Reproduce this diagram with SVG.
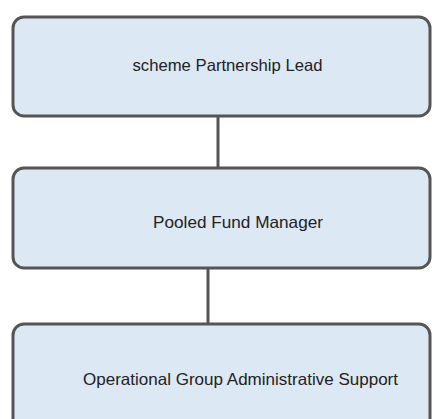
<svg xmlns="http://www.w3.org/2000/svg" width="432" height="419" viewBox="0 0 432 419">
<style>
.node{fill:#dde8f5;stroke:#555;stroke-width:3}
.lbl{font-family:"Liberation Sans",Arial,sans-serif;font-size:16.5px;fill:#222;text-anchor:middle}
.conn{stroke:#555;stroke-width:3;fill:none}
</style>
<rect width="432" height="419" fill="#fff"/>
<g id="connectors">
<line class="conn" x1="218" y1="117" x2="218" y2="168"/>
<line class="conn" x1="208" y1="268" x2="208" y2="324"/>
</g>
<g id="node1">
<rect class="node" x="13" y="17" width="417" height="99" rx="11"/>
<text class="lbl" x="227.5" y="71" textLength="190" lengthAdjust="spacingAndGlyphs">scheme Partnership Lead</text>
</g>
<g id="node2">
<rect class="node" x="13" y="168" width="417" height="100" rx="11"/>
<text class="lbl" x="238" y="228" textLength="170" lengthAdjust="spacingAndGlyphs">Pooled Fund Manager</text>
</g>
<g id="node3">
<rect class="node" x="13" y="324" width="417" height="110" rx="11"/>
<text class="lbl" x="240.5" y="385" textLength="315" lengthAdjust="spacingAndGlyphs">Operational Group Administrative Support</text>
</g>
</svg>
